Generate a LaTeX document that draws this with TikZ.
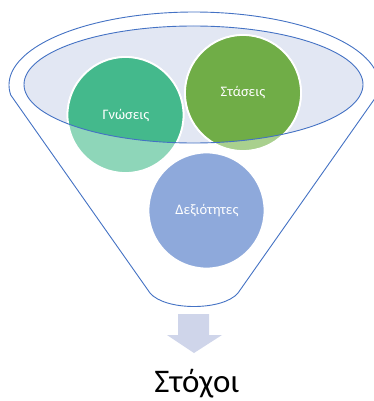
\documentclass[tikz,border=0pt]{standalone}
\usepackage{fontspec}
\setmainfont{Carlito}
\definecolor{funnelblue}{HTML}{4472C4}
\definecolor{ellfill}{HTML}{E2E7F3}
\definecolor{gnfull}{HTML}{44B98C}
\definecolor{gnlight}{HTML}{8ED6B9}
\definecolor{stfull}{HTML}{70AD47}
\definecolor{stlight}{HTML}{A9D08E}
\definecolor{dxfull}{HTML}{8EA9DB}
\definecolor{arrowfill}{HTML}{CFD5EA}
\tikzset{
  ball/.style={circle, minimum size=116pt, inner sep=0pt, draw=white, line width=1.8pt},
  balltext/.style={text=white, font=\fontsize{14.5}{17}\selectfont, inner sep=0pt},
  funnelline/.style={draw=funnelblue, line width=0.9pt},
}
\begin{document}
\begin{tikzpicture}[x=1pt,y=-1pt]
\useasboundingbox (0,0) rectangle (373,401);
% outer funnel
\draw[funnelline, fill=white] plot[domain=-8:188, samples=120] ({194+185*cos(\x)},{85-73*sin(\x)})
  -- (150,293) .. controls (165,311) and (223,311) .. (238,293) -- cycle;
% inner ellipse fill
\fill[ellfill] (193.5,84.5) ellipse [x radius=169.5, y radius=58.5];
% circles (light parts)
\node[ball, fill=gnlight] (gn) at (125.5,115) {};
\node[ball, fill=stlight] (st) at (243,93) {};
\node[ball, fill=dxfull] (dx) at (206.5,210.5) {};
\begin{scope}
  \clip (193.5,84.5) ellipse [x radius=169.5, y radius=58.5];
  \fill[gnfull, draw=white, line width=1.8pt] (gn.center) circle [radius=58];
  \fill[stfull, draw=white, line width=1.8pt] (st.center) circle [radius=58];
\end{scope}
\draw[funnelline] (193.5,84.5) ellipse [x radius=169.5, y radius=58.5];
\node[balltext] (gnt) at (126,116) {Γνώσεις};
\node[balltext] (stt) at (243,93) {Στάσεις};
\node[balltext] (dxt) at (207,211) {Δεξιότητες};
% arrow
\fill[arrowfill] (178,314) -- (209,314) -- (209,335) -- (222,335) -- (194,353) -- (167,335) -- (178,335) -- cycle;
\node[font=\fontsize{33}{38}\selectfont, inner sep=0pt] (goal) at (197,384) {Στόχοι};
\end{tikzpicture}
\end{document}
